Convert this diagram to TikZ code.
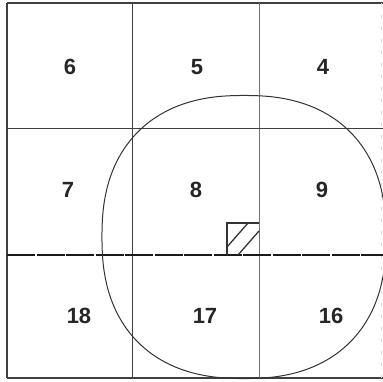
\documentclass[tikz,border=0pt]{standalone}
\usepackage{fontspec}
\setmainfont{Liberation Sans}
\begin{document}
\begin{tikzpicture}[x=1pt,y=-1pt,
  gridline/.style={draw=black!75,line width=0.9pt},
  lightline/.style={draw=black!55,line width=0.9pt},
  heavyline/.style={draw=black!90,line width=2pt,dash pattern=on 28pt off 1.5pt},
  lbl/.style={font=\fontsize{22}{22}\selectfont\bfseries,text=black!85,inner sep=0pt},
  zone/.style={draw=black!80,line width=1pt}]
\useasboundingbox (0,0) rectangle (383,381);
% outer frame
\draw[gridline,line width=1.6pt] (7,3) -- (383,3);
\draw[gridline,line width=1.3pt] (7,3) -- (7,378);
\draw[gridline,line width=1.3pt] (7,378) -- (383,378);
\draw[draw=black!15,line width=0.6pt,dash pattern=on 3pt off 9pt] (381,3) -- (381,378);
% inner lines
\draw[gridline] (132,3) -- (132,378);
\draw[lightline] (259,3) -- (259,378);
\draw[gridline] (7,128) -- (383,128);
\draw[heavyline] (7,255) -- (383,255);
% hatched square
\draw[zone,line width=1.1pt] (227,255) -- (227,223) -- (259,223);
\draw[zone,line width=1.3pt] (227,247) -- (248,223);
\draw[zone,line width=1.3pt] (238,255) -- (259,231);
% rounded zone
\draw[zone] plot[smooth cycle,domain=1:359,samples=180]
  ({244+142*sign(cos(\x))*pow(abs(cos(\x)),0.85)},
   {237+141.5*sign(sin(\x))*pow(abs(sin(\x)),0.85)});
% labels
\node[lbl] (n6) at (70,67) {6};
\node[lbl] (n5) at (197,67) {5};
\node[lbl] (n4) at (323,67) {4};
\node[lbl] (n7) at (68,190) {7};
\node[lbl] (n8) at (196,190) {8};
\node[lbl] (n9) at (322,190) {9};
\node[lbl] (n18) at (79,316) {18};
\node[lbl] (n17) at (205,316) {17};
\node[lbl] (n16) at (331,316) {16};
\end{tikzpicture}
\end{document}
